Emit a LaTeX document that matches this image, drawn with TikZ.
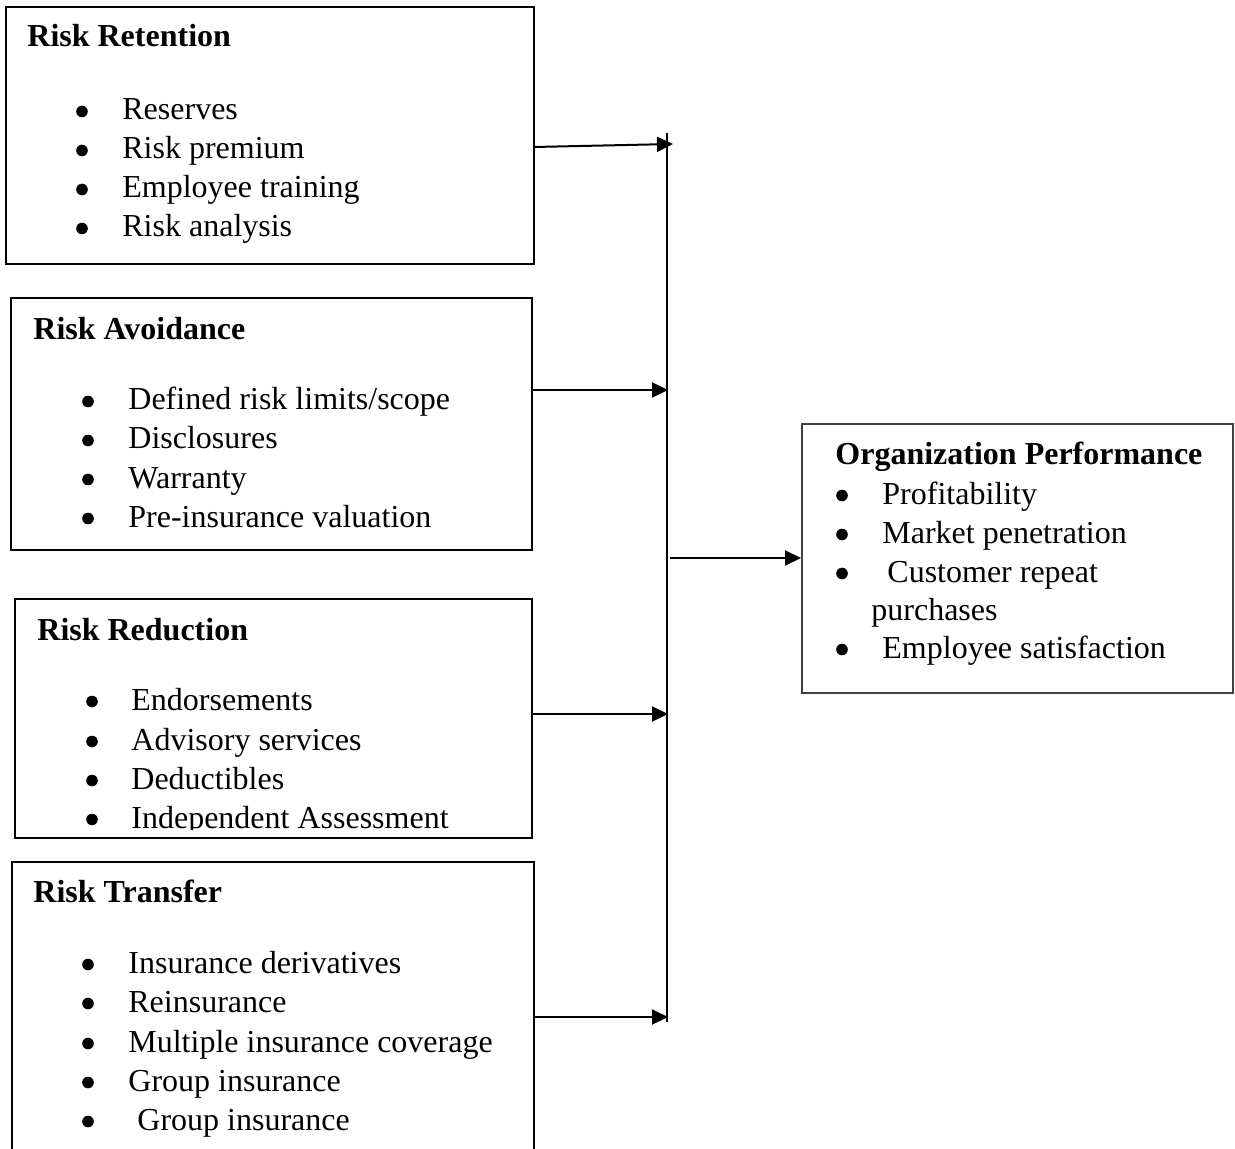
\documentclass[tikz,border=0pt]{standalone}
\usepackage{fontspec}
\setmainfont{Liberation Serif}
\usetikzlibrary{arrows.meta}
\begin{document}
\begin{tikzpicture}[x=0.5pt,y=-0.5pt,
  box/.style={draw, line width=1pt, inner sep=0pt},
  txt/.style={anchor=base west, inner sep=0pt, font=\fontsize{16}{19.5}\selectfont},
  head/.style={anchor=base west, inner sep=0pt, font=\fontsize{16}{19.5}\selectfont\bfseries},
  dot/.style={circle, fill=black, inner sep=0pt, minimum size=5.8pt},
  arr/.style={line width=1pt, -{Triangle[length=8pt,width=7.5pt]}},
  bus/.style={line width=1pt}]
\useasboundingbox (0,0) rectangle (1235,1149);
\clip (0,0) rectangle (1235,1149);
\fill[white] (0,0) rectangle (1235,1149);

% boxes
\node[box, minimum width=264pt, minimum height=128.5pt] (b1) at (270,135.5) {};
\node[box, minimum width=260.5pt, minimum height=126pt] (b2) at (271.5,424) {};
\node[box, minimum width=258.5pt, minimum height=119.5pt] (b3) at (273.5,718.5) {};
\node[box, minimum width=261pt, minimum height=149pt] (b4) at (273,1011) {};
\node[box, draw=black!75, minimum width=215.5pt, minimum height=134.5pt] (org) at (1017.5,558.5) {};

% box 1
\node[head] (h1) at (27,47) {Risk Retention};
\foreach \y/\t [count=\i] in {120/Reserves,159/Risk premium,198/Employee training,237/Risk analysis}{
  \node[dot] (p1b\i) at (82,{\y-8.5}) {};
  \node[txt] (p1t\i) at (122,\y) {\t};
}
% box 2
\node[head] (h2) at (33,340) {Risk Avoidance};
\foreach \y/\t [count=\i] in {410/{Defined risk limits/scope},449/Disclosures,488/Warranty,527/Pre-insurance valuation}{
  \node[dot] (p2b\i) at (88,{\y-8.5}) {};
  \node[txt] (p2t\i) at (128,\y) {\t};
}
% box 3
\node[head] (h3) at (37,640) {Risk Reduction};
\begin{scope}
\clip (15,599) rectangle (532,829.5);
\foreach \y/\t [count=\i] in {710/Endorsements,750/Advisory services,789/Deductibles,828/Independent Assessment}{
  \node[dot] (p3b\i) at (92,{\y-8.5}) {};
  \node[txt] (p3t\i) at (131,\y) {\t};
}
\end{scope}
% box 4
\node[head] (h4) at (33,902) {Risk Transfer};
\foreach \y/\t [count=\i] in {973/Insurance derivatives,1012/Reinsurance,1052/Multiple insurance coverage,1091/Group insurance}{
  \node[dot] (p4b\i) at (88,{\y-8.5}) {};
  \node[txt] (p4t\i) at (128,\y) {\t};
}
\node[dot] (p4b5) at (88,1121.5) {};
\node[txt] (p4t5) at (137,1130) {Group insurance};

% org box
\node[head] (ho) at (835,465) {Organization Performance};
\node[dot] (pob1) at (842,495.5) {};
\node[txt] (pot1) at (882,504) {Profitability};
\node[dot] (pob2) at (842,534.5) {};
\node[txt] (pot2) at (882,543) {Market penetration};
\node[dot] (pob3) at (842,573.5) {};
\node[txt] (pot3) at (887,582) {Customer repeat};
\node[txt] (pot3b) at (871,620) {purchases};
\node[dot] (pob4) at (842,649.5) {};
\node[txt] (pot4) at (882,658) {Employee satisfaction};

% bus line
\coordinate (bustop) at (667,133);
\coordinate (busbot) at (667,1022);
\draw[bus] (bustop) -- (busbot);

% arrows
\coordinate (s1) at (534,147);
\coordinate (e1) at (673,144);
\draw[arr] (s1) -- (e1);
\coordinate (e2) at (668,390);
\draw[arr] (b2.east |- e2) -- (e2);
\coordinate (e3) at (668,714);
\draw[arr] (b3.east |- e3) -- (e3);
\coordinate (e4) at (668,1017);
\draw[arr] (b4.east |- e4) -- (e4);
\coordinate (s5) at (670,558);
\draw[arr] (s5) -- (org.west |- s5);
\end{tikzpicture}
\end{document}
